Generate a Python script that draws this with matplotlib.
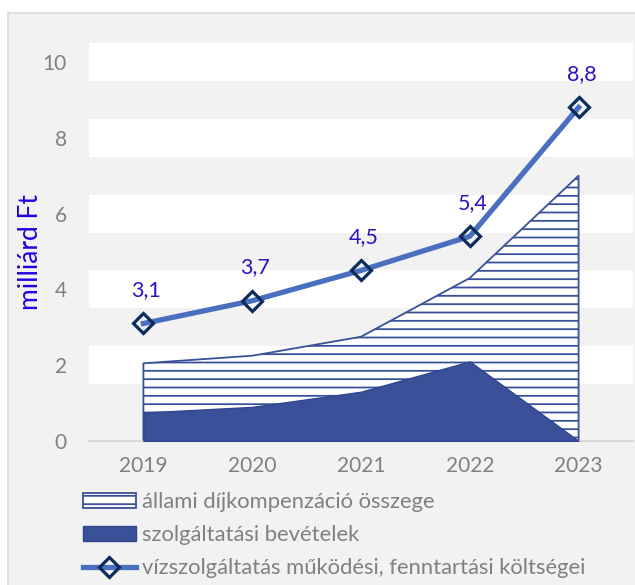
import numpy as np
import matplotlib.pyplot as plt
from matplotlib.patches import Rectangle

evek = ['2019', '2020', '2021', '2022', '2023']
szolg_bevetelek = [0.75, 0.9, 1.3, 2.1, 0.0]
allami_kompenzacio = [1.3, 1.35, 1.45, 2.2, 7.0]
koltsegek = [3.1, 3.7, 4.5, 5.4, 8.8]
cimkek = ['3,1', '3,7', '4,5', '5,4', '8,8']

plt.rcParams['font.family'] = ['Lato', 'DejaVu Sans']
plt.rcParams['hatch.linewidth'] = 1.3

kek = '#3a5199'
szurke = '#808080'

fig = plt.figure(figsize=(6.35, 5.85), dpi=100, facecolor='white')

# szurke keret
fig.patches.append(Rectangle((8 / 635, -0.1), 1.1, 1 - 13 / 585 + 0.1,
                             transform=fig.transFigure, facecolor='#f2f2f2',
                             edgecolor='#d9d9d9', linewidth=1.2, zorder=-5))

ax = fig.add_axes([89 / 635, 1 - 441 / 585, 544 / 635, 398 / 585])
ax.set_facecolor('none')

x = np.arange(len(evek))
teteje = np.array(szolg_bevetelek) + np.array(allami_kompenzacio)

# feher savok a racsvonalak helyen
for y in [2, 4, 6, 8, 10]:
    ax.axhspan(y - 0.5, y + 0.5, color='white', zorder=0, linewidth=0)

# teruletek
ax.fill_between(x, 0, teteje, facecolor='white', edgecolor=kek, hatch='--',
                linewidth=1.3, zorder=2, label='állami díjkompenzáció összege')
ax.fill_between(x, 0, szolg_bevetelek, facecolor=kek, edgecolor='#2f4590',
                linewidth=1.0, zorder=3, label='szolgáltatási bevételek')

# vonal
ax.plot(x, koltsegek, color='#4a6fbe', linewidth=3.8, marker='D', markersize=10.5,
        markerfacecolor='none', markeredgecolor='#0c2a5c', markeredgewidth=2.3,
        zorder=5, label='vízszolgáltatás működési, fenntartási költségei')

for xi, yi, c in zip(x, koltsegek, cimkek):
    ax.annotate(c, (xi, yi), xytext=(2, 24), textcoords='offset points',
                ha='center', va='center', fontsize=15.5, color='#3010c0', zorder=6)

ax.set_xlim(-0.5, 4.5)
ax.set_ylim(0, 10.5)
ax.set_yticks([0, 2, 4, 6, 8, 10])
ax.set_xticks(x)
ax.set_xticklabels(evek)
ax.tick_params(axis='both', length=0, labelsize=15, colors=szurke)
ax.tick_params(axis='y', pad=16)
ax.tick_params(axis='x', pad=11)

for s in ['top', 'right', 'left']:
    ax.spines[s].set_visible(False)
ax.spines['bottom'].set_color('#d9d9d9')
ax.spines['bottom'].set_linewidth(1.5)

ax.set_ylabel('milliárd Ft', color='#2000e0', fontsize=19)
ax.yaxis.set_label_coords(-0.085, 0.475)

h, l = ax.get_legend_handles_labels()
leg = fig.legend(h, l, loc='upper left', bbox_to_anchor=(83 / 635, 1 - 492 / 585),
                 frameon=False, fontsize=15.8, handlelength=2.4, handletextpad=0.3,
                 labelspacing=0.6, borderpad=0, borderaxespad=0, numpoints=1)
for t in leg.get_texts():
    t.set_color(szurke)

fig.savefig('out.png', dpi=100, facecolor='white')
